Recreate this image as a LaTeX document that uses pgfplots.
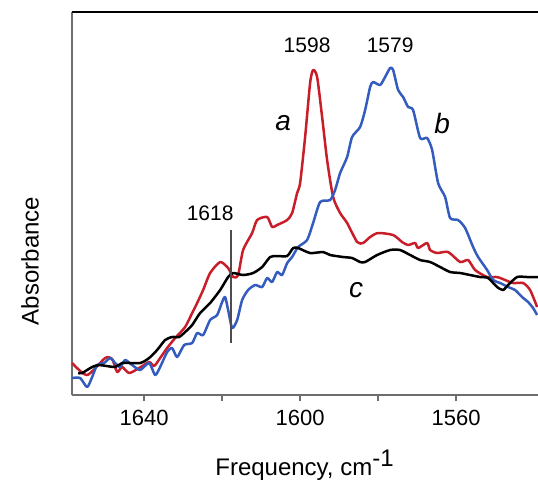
\documentclass[border=0pt]{standalone}
\usepackage{pgfplots}
\pgfplotsset{compat=1.18}
\usepackage{fontspec}
\setmainfont{Liberation Sans}
\definecolor{cred}{RGB}{200,30,42}
\definecolor{cblue}{RGB}{52,92,190}
\definecolor{axgray}{RGB}{110,110,110}
\begin{document}
\begin{tikzpicture}
\begin{axis}[name=ax,
  scale only axis, width=233pt, height=191.5pt,
  x dir=reverse, xmin=1539, xmax=1658.5, ymin=0, ymax=383,
  axis x line*=bottom, axis y line*=left,
  axis line style={axgray, line width=1pt, -},
  xtick={1640,1600,1560}, minor xtick={1620,1580},
  ytick=\empty,
  tick align=outside, major tick length=3pt, minor tick length=3pt,
  every tick/.style={axgray, line width=0.8pt},
  /pgf/number format/assume math mode=true,
  /pgf/number format/1000 sep={},
  xticklabel style={font=\fontsize{11}{13}\selectfont, yshift=-1pt},
  clip=false,
  every axis plot/.append style={line width=1.25pt, line join=round, smooth, tension=0.4},
]
\draw[black, line width=0.8pt] (rel axis cs:0,1) -- (rel axis cs:1,1);
% a (red)
\addplot[cred] coordinates {
(1658.46,32) (1654.62,20) (1650.00,37) (1648.21,36) (1646.92,23) (1645.64,28)
(1643.85,22) (1641.28,27) (1638.72,33) (1637.44,29) (1635.90,37) (1634.10,47)
(1632.05,57) (1629.49,68) (1627.69,82) (1626.41,92) (1624.87,105) (1623.08,122)
(1620.51,133) (1618.46,127) (1617.18,118) (1615.90,120) (1614.62,145) (1612.31,162)
(1611.03,175) (1608.46,178) (1607.18,168) (1605.90,170) (1603.33,175) (1602.05,182)
(1600.77,202) (1600.00,212) (1598.72,258) (1597.44,312) (1596.67,325) (1595.64,318)
(1594.36,278) (1593.08,235) (1591.54,198) (1589.74,182) (1587.95,172) (1585.38,153)
(1583.85,152) (1582.05,158) (1580.00,162) (1576.15,160) (1573.85,153) (1572.31,150)
(1570.51,152) (1569.74,147) (1567.44,152) (1566.67,145) (1564.87,142) (1562.05,143)
(1558.97,133) (1556.92,135) (1555.13,125) (1552.05,118) (1549.49,118) (1547.44,115)
(1545.38,112) (1542.82,112) (1541.03,105) (1539.23,88)
};
% b (blue)
\addplot[cblue] coordinates {
(1658.46,17) (1656.41,17) (1654.62,8) (1653.33,18) (1652.05,30) (1650.26,32)
(1648.72,37) (1647.44,32) (1646.15,28) (1644.87,35) (1643.08,30) (1641.03,25)
(1638.72,32) (1637.18,20) (1635.90,28) (1634.10,43) (1632.82,47) (1631.54,38)
(1629.74,50) (1627.69,52) (1626.41,62) (1624.87,60) (1623.08,75) (1621.28,80)
(1620.00,93) (1619.23,98) (1618.46,85) (1617.44,67) (1616.15,75) (1614.87,95)
(1613.33,105) (1611.54,110) (1609.74,108) (1608.46,117) (1607.18,113) (1605.90,123)
(1604.62,120) (1603.33,132) (1602.05,138) (1600.51,148) (1598.21,155) (1596.67,172)
(1594.87,193) (1592.31,195) (1591.03,205) (1589.74,222) (1587.95,238) (1586.67,258)
(1584.62,268) (1583.33,285) (1582.05,308) (1581.28,313) (1579.49,310) (1578.21,318)
(1576.92,327) (1576.15,325) (1574.87,305) (1573.59,298) (1572.31,288) (1571.03,285)
(1569.23,257) (1567.44,257) (1566.15,245) (1564.62,212) (1562.82,198) (1561.54,177)
(1559.49,175) (1557.69,167) (1555.64,148) (1554.36,138) (1552.05,125) (1550.51,115)
(1548.72,112) (1546.67,108) (1544.87,105) (1543.08,98) (1541.54,93) (1540.26,87)
(1539.23,80)
};
% c (black)
\addplot[black] coordinates {
(1656.92,22) (1655.90,22) (1653.33,28) (1651.54,30) (1647.44,28) (1645.64,32)
(1641.03,32) (1638.72,37) (1636.67,45) (1634.62,55) (1632.82,58) (1631.03,58)
(1629.49,63) (1627.69,70) (1625.64,82) (1623.08,92) (1620.51,105) (1618.46,118)
(1617.18,122) (1614.62,120) (1612.05,122) (1609.74,128) (1607.69,138) (1605.90,139)
(1603.33,139) (1601.79,147) (1600.51,147) (1597.44,142) (1594.10,143) (1592.31,140)
(1588.97,138) (1586.67,137) (1584.62,133) (1583.33,133) (1580.26,140) (1576.92,145)
(1574.36,145) (1571.79,140) (1569.23,135) (1566.67,133) (1564.10,128) (1561.54,123)
(1558.97,122) (1556.41,120) (1553.85,118) (1551.79,117) (1549.49,108) (1547.95,105)
(1546.67,110) (1544.36,118) (1541.79,118) (1538.97,118)
};
% marker line at 1618
\addplot[axgray!70!black, line width=0.8pt, sharp plot] coordinates {(1617.69,52) (1617.69,165)};
\node[font=\fontsize{10.5}{12}\selectfont] at (axis cs:1623.08,182) {1618};
\node[font=\fontsize{10.5}{12}\selectfont] at (axis cs:1598.21,350) {1598};
\node[font=\fontsize{10.5}{12}\selectfont] at (axis cs:1576.92,350) {1579};
\node[font=\fontsize{14}{16}\selectfont\itshape] at (axis cs:1604.36,272) {a};
\node[font=\fontsize{14}{16}\selectfont\itshape] at (axis cs:1563.6,272) {b};
\node[font=\fontsize{14}{16}\selectfont\itshape] at (axis cs:1585.64,105) {c};
\node[rotate=90, font=\fontsize{12}{14}\selectfont] at (rel axis cs:-0.090,0.35) {Absorbance};
\node[font=\fontsize{12}{14}\selectfont] at (rel axis cs:0.5,-0.183) {Frequency, cm$^{\textrm{-1}}$};
\end{axis}
\pgfresetboundingbox
\path[use as bounding box] ([shift={(-36pt,-43pt)}]ax.south west) rectangle ([shift={(0pt,6pt)}]ax.north east);
\end{tikzpicture}
\end{document}
